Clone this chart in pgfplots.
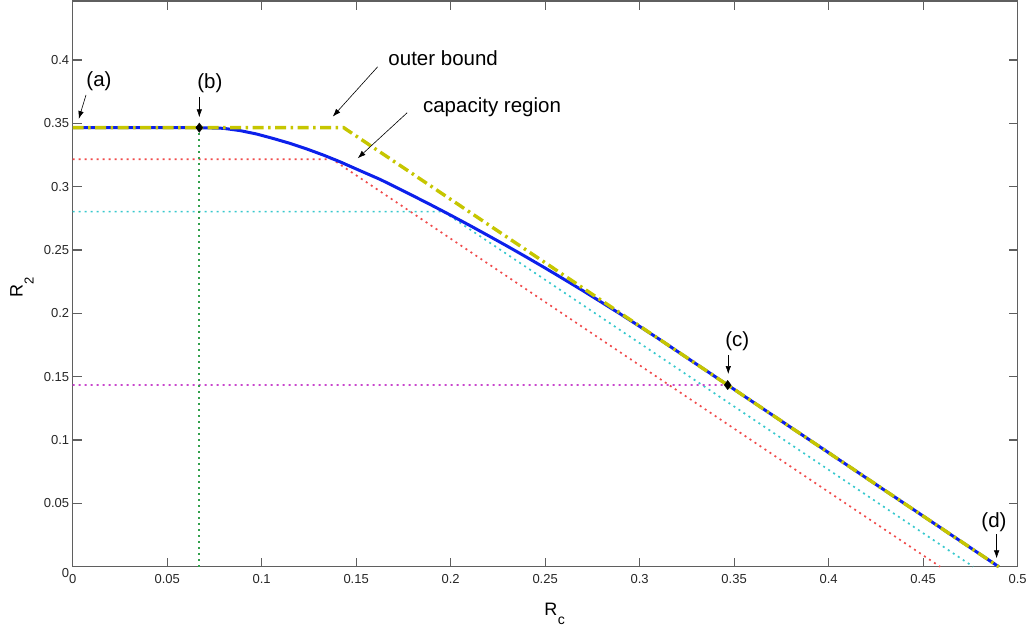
\documentclass[border=0pt]{standalone}
\usepackage{fontspec}
\setmainfont{Liberation Sans}
\usepackage{pgfplots}
\pgfplotsset{compat=1.18}
\usetikzlibrary{arrows.meta}

\definecolor{capblue}{RGB}{12,32,235}
\definecolor{obyellow}{RGB}{198,198,0}
\definecolor{dred}{RGB}{240,75,75}
\definecolor{dcyan}{RGB}{55,200,205}
\definecolor{dmag}{RGB}{200,70,205}
\definecolor{dgreen}{RGB}{50,160,75}
\definecolor{axgray}{RGB}{95,95,95}

\tikzset{
  annot/.style={font=\fontsize{20.5}{20.5}\selectfont, inner sep=0pt},
  annarrow/.style={-{Latex[length=8pt,width=5.5pt]}, line width=0.6pt, black},
  dots/.style={line width=1.7pt, dash pattern=on 2pt off 4pt},
}

\begin{document}
\begin{tikzpicture}
\begin{axis}[
  at={(72.7pt,63.3pt)}, anchor=south west,
  scale only axis, width=944.9pt, height=565.7pt,
  xmin=0, xmax=0.5, ymin=0, ymax=0.4466,
  axis line style={axgray, line width=1.2pt},
  every tick/.style={axgray, line width=1.2pt},
  tick align=inside, major tick length=9pt,
  xtick={0,0.05,0.1,0.15,0.2,0.25,0.3,0.35,0.4,0.45,0.5},
  xticklabels={0,0.05,0.1,0.15,0.2,0.25,0.3,0.35,0.4,0.45,0.5},
  ytick={0.05,0.1,0.15,0.2,0.25,0.3,0.35,0.4},
  yticklabels={0.05,0.1,0.15,0.2,0.25,0.3,0.35,0.4},
  extra y ticks={0}, extra y tick labels={0},
  extra y tick style={yticklabel style={yshift=-6pt}},
  tick label style={font=\fontsize{13}{13}\selectfont, text=black!85},
  xticklabel style={yshift=-4pt},
  xlabel={R\kern0.5pt\raisebox{-9pt}{\fontsize{14}{14}\selectfont c}},
  xlabel style={at={(axis description cs:0.510,-0.0854)}, anchor=base,
    inner sep=0pt, font=\fontsize{18}{18}\selectfont},
  ylabel={R\kern0.5pt\raisebox{-11pt}{\fontsize{13}{13}\selectfont 2}},
  ylabel style={at={(axis description cs:-0.0529,0.494)}, anchor=base,
    inner sep=0pt, font=\fontsize{18}{18}\selectfont},
  clip=false,
]

% single-user rate regions (dotted)
\addplot[dots, dred] coordinates {(0,0.3216) (0.1374,0.3216) (0.459,0)};
\addplot[dots, dcyan] coordinates {(0,0.2803) (0.1962,0.2803) (0.4765,0)};
\addplot[dots, dmag] coordinates {(0,0.1434) (0.3466,0.1434) (0.49,0)};
\addplot[dots, dgreen] coordinates {(0.067,0) (0.067,0.3466) (0,0.3466)};

% capacity region boundary
\addplot[capblue, line width=3pt] coordinates {
  (0,0.3466) (0.067,0.3466) (0.0797,0.3461) (0.0885,0.3443) (0.0973,0.3416)
  (0.106,0.3381) (0.115,0.3342) (0.124,0.3297) (0.1326,0.3250)
  (0.1414,0.3197) (0.150,0.3140) (0.1626,0.3058) (0.17,0.3004)
  (0.18,0.2929) (0.19,0.2853) (0.20,0.2775) (0.21,0.2695) (0.22,0.2613)
  (0.23,0.2530) (0.24,0.2445) (0.25,0.2358) (0.26,0.2269) (0.27,0.2179)
  (0.28,0.2086) (0.29,0.1993) (0.30,0.1897) (0.31,0.1800) (0.32,0.1700)
  (0.3466,0.1434) (0.49,0)
};

% outer bound
\addplot[obyellow, line width=3.4pt, dash pattern=on 11pt off 4.5pt on 2.5pt off 4.5pt]
  coordinates {(0,0.3466) (0.1434,0.3466) (0.49,0)};

% corner points (b) and (c)
\addplot[only marks, mark=diamond*, mark size=4.6pt, black] coordinates {(0.067,0.3466) (0.3466,0.1434)};

% annotations
\node[annot] at (axis cs:0.0139,0.3829) {(a)};
\draw[annarrow] (axis cs:0.00704,0.3724) -- (axis cs:0.00317,0.3534);
\node[annot] at (axis cs:0.0726,0.3819) {(b)};
\draw[annarrow] (axis cs:0.067,0.3710) -- (axis cs:0.067,0.3548);
\node[annot, anchor=base west] at (axis cs:0.1670,0.3960) {outer bound};
\draw[annarrow] (axis cs:0.1614,0.3947) -- (axis cs:0.1376,0.3553);
\node[annot, anchor=base west] at (axis cs:0.1853,0.3582) {capacity region};
\draw[annarrow] (axis cs:0.1770,0.3584) -- (axis cs:0.1508,0.3224);
\node[annot] at (axis cs:0.3517,0.1782) {(c)};
\draw[annarrow] (axis cs:0.3469,0.1671) -- (axis cs:0.3469,0.1521);
\node[annot] at (axis cs:0.4875,0.0353) {(d)};
\draw[annarrow] (axis cs:0.4889,0.0258) -- (axis cs:0.4889,0.0066);
\end{axis}
\pgfresetboundingbox
\path[use as bounding box] (0,0) rectangle (1029pt,630pt);
\end{tikzpicture}
\end{document}
